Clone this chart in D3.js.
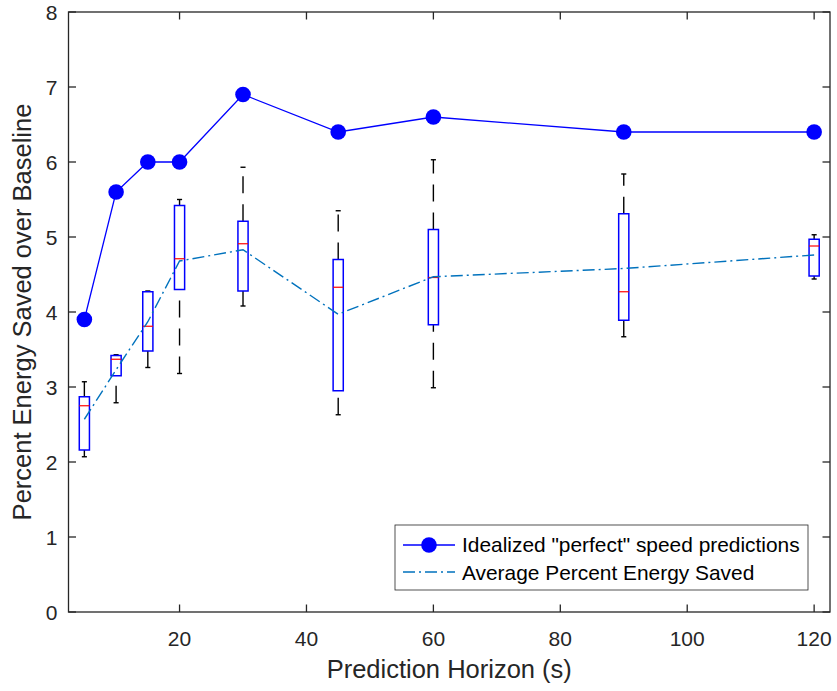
<!DOCTYPE html>
<html><head><meta charset="utf-8">
<script src="https://cdn.jsdelivr.net/npm/d3@7"></script>
<style>body{margin:0;background:#fff}svg{display:block}</style>
</head><body>
<script>
// ---- data ----
const horizons = [5, 10, 15, 20, 30, 45, 60, 90, 120];
const idealSaved = [3.9, 5.6, 6.0, 6.0, 6.9, 6.4, 6.6, 6.4, 6.4];
const avgSaved = [2.57, 3.23, 3.87, 4.68, 4.83, 3.97, 4.47, 4.58, 4.76];
const lowerWhisker = [2.07, 2.79, 3.26, 3.18, 4.08, 2.63, 2.99, 3.67, 4.44];
const q1 = [2.16, 3.15, 3.48, 4.30, 4.28, 2.95, 3.83, 3.89, 4.48];
const median = [2.75, 3.37, 3.81, 4.71, 4.91, 4.33, 4.46, 4.27, 4.88];
const q3 = [2.87, 3.42, 4.27, 5.42, 5.21, 4.70, 5.10, 5.31, 4.97];
const upperWhisker = [3.07, 3.43, 4.28, 5.50, 5.93, 5.35, 6.03, 5.84, 5.03];
const xTicks = [20, 40, 60, 80, 100, 120];
const yTicks = [0, 1, 2, 3, 4, 5, 6, 7, 8];
const legendLabels = ['Idealized "perfect" speed predictions', 'Average Percent Energy Saved'];
const xLabel = "Prediction Horizon (s)";
const yLabel = "Percent Energy Saved over Baseline";

(function () {
const W = 837, H = 691;
const pL = 68.5, pR = 830, pT = 12, pB = 612;
const boxW = 1.6, capW = 0.8;
const font = "Arial, 'Liberation Sans', Helvetica, sans-serif";
const axCol = "#262626";

const svg = d3.select("body").append("svg").attr("width", W).attr("height", H);
const x = d3.scaleLinear().domain([2.5, 122.5]).range([pL, pR]);
const y = d3.scaleLinear().domain([0, 8]).range([pB, pT]);

const data = horizons.map((h, i) => ({h, lo: lowerWhisker[i], q1: q1[i], med: median[i], q3: q3[i], hi: upperWhisker[i]}));

const g = svg.append("g");
g.selectAll(".wl").data(data).join("line")
  .attr("x1", d => x(d.h)).attr("x2", d => x(d.h))
  .attr("y1", d => y(d.lo)).attr("y2", d => y(d.q1))
  .attr("stroke", "#000").attr("stroke-width", 1.4).attr("stroke-dasharray", "17,11");
g.selectAll(".wu").data(data).join("line")
  .attr("x1", d => x(d.h)).attr("x2", d => x(d.h))
  .attr("y1", d => y(d.q3)).attr("y2", d => y(d.hi))
  .attr("stroke", "#000").attr("stroke-width", 1.4).attr("stroke-dasharray", "17,11");
["lo", "hi"].forEach(k => {
  g.selectAll(".cap" + k).data(data).join("line")
    .attr("x1", d => x(d.h - capW / 2)).attr("x2", d => x(d.h + capW / 2))
    .attr("y1", d => y(d[k])).attr("y2", d => y(d[k]))
    .attr("stroke", "#000").attr("stroke-width", 1.4);
});
g.selectAll(".box").data(data).join("rect")
  .attr("x", d => x(d.h - boxW / 2)).attr("width", d => x(d.h + boxW / 2) - x(d.h - boxW / 2))
  .attr("y", d => y(d.q3)).attr("height", d => y(d.q1) - y(d.q3))
  .attr("fill", "none").attr("stroke", "#0000ff").attr("stroke-width", 1.5);
g.selectAll(".med").data(data).join("line")
  .attr("x1", d => x(d.h - boxW / 2)).attr("x2", d => x(d.h + boxW / 2))
  .attr("y1", d => y(d.med)).attr("y2", d => y(d.med))
  .attr("stroke", "#ff0000").attr("stroke-width", 1.2);

const line = d3.line().x(d => x(d[0])).y(d => y(d[1]));
g.append("path").datum(horizons.map((h, i) => [h, avgSaved[i]]))
  .attr("d", line).attr("fill", "none").attr("stroke", "#0072BD")
  .attr("stroke-width", 1.4).attr("stroke-dasharray", "12,4,2,4");
g.append("path").datum(horizons.map((h, i) => [h, idealSaved[i]]))
  .attr("d", line).attr("fill", "none").attr("stroke", "#0000ff").attr("stroke-width", 1.3);
g.selectAll(".dot").data(horizons.map((h, i) => [h, idealSaved[i]])).join("circle")
  .attr("cx", d => x(d[0])).attr("cy", d => y(d[1])).attr("r", 7.8).attr("fill", "#0000ff");

const ax = svg.append("g");
const tl = 7.5;
ax.append("rect").attr("x", pL).attr("y", pT).attr("width", pR - pL).attr("height", pB - pT)
  .attr("fill", "none").attr("stroke", axCol).attr("stroke-width", 1.3);
xTicks.forEach(t => {
  ax.append("line").attr("x1", x(t)).attr("x2", x(t)).attr("y1", pB).attr("y2", pB - tl).attr("stroke", axCol).attr("stroke-width", 1.3);
  ax.append("line").attr("x1", x(t)).attr("x2", x(t)).attr("y1", pT).attr("y2", pT + tl).attr("stroke", axCol).attr("stroke-width", 1.3);
  ax.append("text").attr("x", x(t)).attr("y", pB + 34).attr("text-anchor", "middle")
    .attr("font-family", font).attr("font-size", 21).attr("fill", axCol).text(t);
});
yTicks.forEach(t => {
  ax.append("line").attr("x1", pL).attr("x2", pL + tl).attr("y1", y(t)).attr("y2", y(t)).attr("stroke", axCol).attr("stroke-width", 1.3);
  ax.append("line").attr("x1", pR).attr("x2", pR - tl).attr("y1", y(t)).attr("y2", y(t)).attr("stroke", axCol).attr("stroke-width", 1.3);
  ax.append("text").attr("x", pL - 11).attr("y", y(t) + 7.5).attr("text-anchor", "end")
    .attr("font-family", font).attr("font-size", 21).attr("fill", axCol).text(t);
});
ax.append("text").attr("x", (pL + pR) / 2).attr("y", 678).attr("text-anchor", "middle")
  .attr("font-family", font).attr("font-size", 25.5).attr("fill", axCol).text(xLabel);
ax.append("text").attr("transform", `translate(31,${(pT + pB) / 2}) rotate(-90)`).attr("text-anchor", "middle")
  .attr("font-family", font).attr("font-size", 25.5).attr("fill", axCol).text(yLabel);

const lg = svg.append("g");
lg.append("rect").attr("x", 395).attr("y", 525).attr("width", 413).attr("height", 65)
  .attr("fill", "#fff").attr("stroke", axCol).attr("stroke-width", 0.8);
lg.append("line").attr("x1", 403).attr("x2", 455).attr("y1", 545).attr("y2", 545).attr("stroke", "#0000ff").attr("stroke-width", 1.3);
lg.append("circle").attr("cx", 429).attr("cy", 545).attr("r", 7.8).attr("fill", "#0000ff");
lg.append("line").attr("x1", 403).attr("x2", 455).attr("y1", 572).attr("y2", 572).attr("stroke", "#0072BD").attr("stroke-width", 1.4).attr("stroke-dasharray", "12,4,2,4");
legendLabels.forEach((t, i) => {
  lg.append("text").attr("x", 462).attr("y", 552 + i * 27.5).attr("font-family", font).attr("font-size", 20.9).attr("fill", "#000").text(t);
});
})();
</script>
</body></html>
